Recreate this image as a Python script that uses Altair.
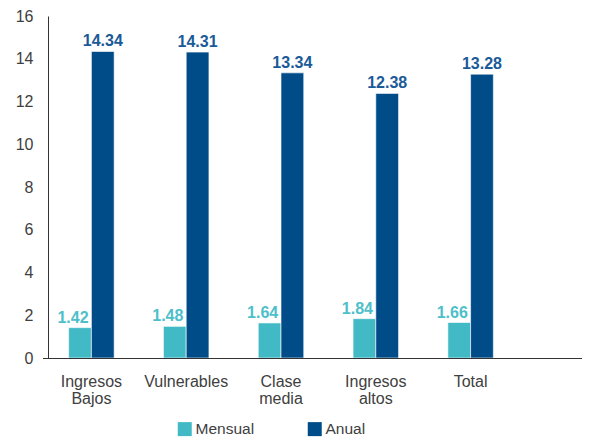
import altair as alt
import pandas as pd

categories = ["Ingresos Bajos", "Vulnerables", "Clase media", "Ingresos altos", "Total"]
mensual = [1.42, 1.48, 1.64, 1.84, 1.66]
anual = [14.34, 14.31, 13.34, 12.38, 13.28]
series = ["Mensual", "Anual"]
colors = ["#41BAC5", "#004C89"]
label_colors = ["#4DBFCA", "#1B5A98"]

rows = []
for c, m, a in zip(categories, mensual, anual):
    rows.append({"cat": c, "serie": "Mensual", "valor": m, "txt": f"{m:.2f}"})
    rows.append({"cat": c, "serie": "Anual", "valor": a, "txt": f"{a:.2f}"})
df = pd.DataFrame(rows)

FONT = "Liberation Sans"
W, H = 474, 342

x = alt.X("cat:N", sort=categories, title=None,
          scale=alt.Scale(paddingInner=0.52, paddingOuter=0.26),
          axis=alt.Axis(labelExpr="split(datum.label, ' ')", labelAngle=0,
                        labelFont=FONT, labelFontSize=16, labelColor="#404040",
                        labelPadding=15, labelLineHeight=17, ticks=False,
                        domain=False))
y = alt.Y("valor:Q", title=None,
          scale=alt.Scale(domain=[0, 16], nice=False),
          axis=alt.Axis(values=list(range(0, 17, 2)), grid=False, ticks=False,
                        labelFont=FONT, labelFontSize=16, labelColor="#404040",
                        labelPadding=15, domainColor="#333333", offset=-4))
xoff = alt.XOffset("serie:N", sort=series, scale=alt.Scale(paddingInner=0))
color = alt.Color("serie:N", sort=series,
                  scale=alt.Scale(domain=series, range=colors),
                  legend=alt.Legend(title=None, orient="none", direction="horizontal",
                                    legendX=133, legendY=405, symbolType="square",
                                    symbolSize=196, symbolStrokeWidth=0,
                                    labelFont=FONT, labelFontSize=15.5,
                                    labelColor="#404040", columnPadding=52,
                                    labelOffset=3))

bars = alt.Chart(df).mark_bar(stroke="white", strokeWidth=0.6).encode(
    x=x, y=y, xOffset=xoff, color=color)

base_txt = alt.Chart(df).encode(x=x, y=y, xOffset=xoff, text="txt:N")
txt_m = base_txt.transform_filter(alt.datum.serie == "Mensual").mark_text(
    font=FONT, fontSize=16, fontWeight="bold", color=label_colors[0],
    baseline="bottom", dy=-2, dx=-7)
txt_a = base_txt.transform_filter(alt.datum.serie == "Anual").mark_text(
    font=FONT, fontSize=16, fontWeight="bold", color=label_colors[1],
    baseline="bottom", dy=-2)

axis_rule = alt.Chart(pd.DataFrame({"v": [0]})).mark_rule(
    color="#333333", strokeWidth=1, clip=False).encode(
    x=alt.value(-1), x2=alt.value(540), y=alt.value(H + 0.5))

chart = alt.layer(bars, txt_m, txt_a, axis_rule).properties(
    width=W, height=H,
    autosize=alt.AutoSizeParams(type="none"),
    padding={"left": 36, "top": 8, "right": 64, "bottom": 80},
).configure(background="white").configure_view(strokeWidth=0, stroke="transparent")

chart.save("out.html", embed_options={"renderer": "svg", "actions": False})
